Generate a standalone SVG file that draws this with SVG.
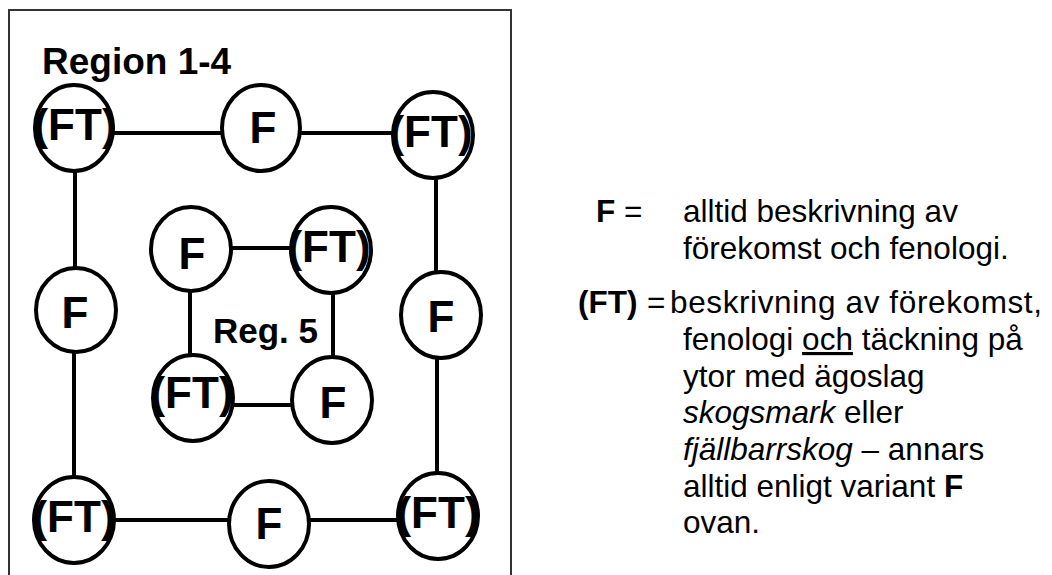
<svg xmlns="http://www.w3.org/2000/svg" width="1052" height="575" viewBox="0 0 1052 575">
<style>
.node ellipse{fill:#fff;stroke:#000;stroke-width:4}
.lbl{font-family:"Liberation Sans",Arial,sans-serif;font-weight:bold;font-size:44px;text-anchor:middle;fill:#000}
.title{font-family:"Liberation Sans",Arial,sans-serif;font-weight:bold;font-size:37px;fill:#000}
.leg{font-family:"Liberation Sans",Arial,sans-serif;font-size:31.5px;fill:#000}
.b{font-weight:bold}
.i{font-style:italic}
#connectors line{stroke:#000;stroke-width:4}
</style>
<rect width="1052" height="575" fill="#fff"/>
<path d="M9,575 V10 H511 V575" fill="none" stroke="#333" stroke-width="2"/>
<text class="title" x="42" y="74">Region 1-4</text>
<text class="title" x="213" y="343" style="font-size:35px">Reg. 5</text>
<g id="connectors">
<line x1="113" y1="133" x2="224" y2="133"/>
<line x1="298" y1="133" x2="396" y2="133"/>
<line x1="75" y1="170" x2="75" y2="268"/>
<line x1="74" y1="352" x2="74" y2="478"/>
<line x1="436" y1="177" x2="436" y2="271"/>
<line x1="437" y1="359" x2="437" y2="474"/>
<line x1="112" y1="520" x2="231" y2="520"/>
<line x1="307" y1="520" x2="400" y2="520"/>
<line x1="229" y1="248" x2="293" y2="248"/>
<line x1="190" y1="291" x2="190" y2="356"/>
<line x1="333" y1="292" x2="333" y2="358"/>
<line x1="231" y1="405" x2="294" y2="405"/>
</g>
<g id="n1" class="node"><ellipse cx="74" cy="128" rx="39" ry="43"/><text class="lbl" x="75" y="140">(FT)</text></g>
<g id="n2" class="node"><ellipse cx="261" cy="128" rx="39" ry="43"/><text class="lbl" x="263" y="143">F</text></g>
<g id="n3" class="node"><ellipse cx="433" cy="135" rx="40" ry="43"/><text class="lbl" x="431" y="147">(FT)</text></g>
<g id="n4" class="node"><ellipse cx="76" cy="310" rx="40" ry="42"/><text class="lbl" x="75" y="328">F</text></g>
<g id="n5" class="node"><ellipse cx="441" cy="315" rx="40" ry="43"/><text class="lbl" x="441" y="332">F</text></g>
<g id="n6" class="node"><ellipse cx="74" cy="520" rx="40" ry="43"/><text class="lbl" x="74" y="532">(FT)</text></g>
<g id="n7" class="node"><ellipse cx="269" cy="524" rx="40" ry="43"/><text class="lbl" x="269" y="539">F</text></g>
<g id="n8" class="node"><ellipse cx="438" cy="516" rx="40" ry="43"/><text class="lbl" x="438" y="528">(FT)</text></g>
<g id="n9" class="node"><ellipse cx="191" cy="249" rx="40" ry="42"/><text class="lbl" x="192" y="269">F</text></g>
<g id="n10" class="node"><ellipse cx="331" cy="250" rx="40" ry="43"/><text class="lbl" x="329" y="262">(FT)</text></g>
<g id="n11" class="node"><ellipse cx="193" cy="398" rx="40" ry="43"/><text class="lbl" x="192" y="408">(FT)</text></g>
<g id="n12" class="node"><ellipse cx="332" cy="400" rx="40" ry="43"/><text class="lbl" x="333" y="418">F</text></g>
<g id="legend">
<text class="leg b" x="596" y="222">F</text>
<text class="leg" x="624" y="222">=</text>
<text class="leg" x="683" y="222">alltid beskrivning av</text>
<text class="leg" x="683" y="259">förekomst och fenologi.</text>
<text class="leg b" x="578" y="313">(FT)</text>
<text class="leg" x="647" y="313">=</text>
<text class="leg" x="670" y="313" textLength="372" lengthAdjust="spacing">beskrivning av förekomst,</text>
<text class="leg" x="683" y="350">fenologi <tspan text-decoration="underline">och</tspan> täckning på</text>
<text class="leg" x="683" y="387">ytor med ägoslag</text>
<text class="leg" x="683" y="423"><tspan class="i">skogsmark</tspan> eller</text>
<text class="leg" x="683" y="460"><tspan class="i">fjällbarrskog</tspan> – annars</text>
<text class="leg" x="683" y="497">alltid enligt variant  <tspan class="b">F</tspan></text>
<text class="leg" x="683" y="533">ovan.</text>
</g>
</svg>
